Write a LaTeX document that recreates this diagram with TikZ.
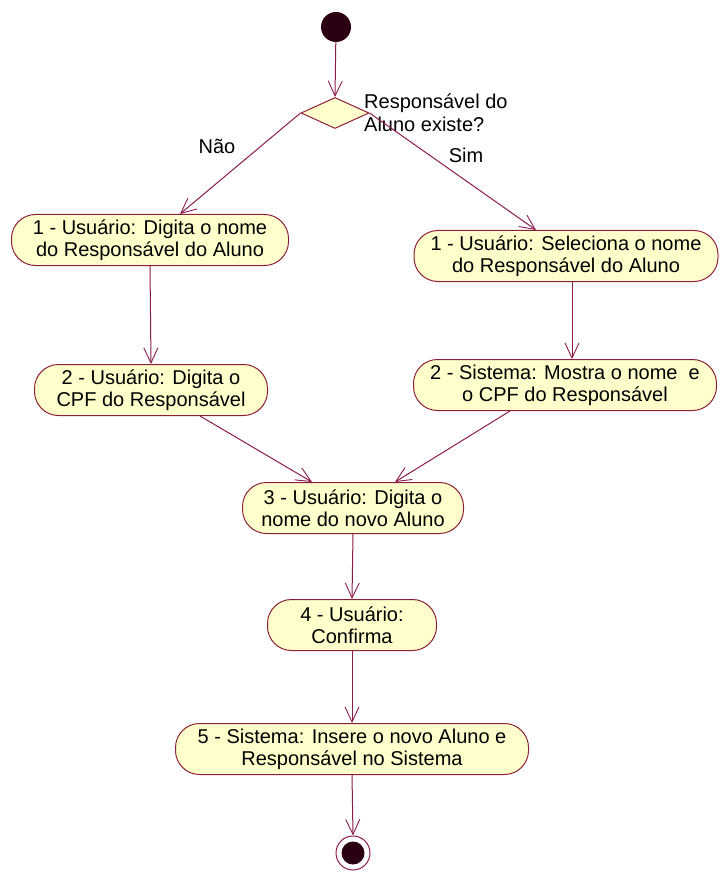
\documentclass[tikz,border=0pt]{standalone}
\usepackage{fontspec}
\setmainfont{Liberation Sans}
\usetikzlibrary{arrows.meta,shapes.geometric}
\definecolor{actfill}{HTML}{FFFFCC}
\definecolor{actborder}{HTML}{8E1F3A}
\definecolor{flowline}{HTML}{8C1C4A}
\definecolor{blob}{HTML}{2A0012}
\begin{document}
\begin{tikzpicture}[x=1pt,y=-1pt,
  activity/.style={draw=actborder, fill=actfill, rounded corners=24pt, align=center,
    font=\fontsize{20}{22}\selectfont, inner sep=0pt, line width=1pt, minimum height=51},
  flow/.style={draw=flowline, line width=1pt, -{Straight Barb[length=15pt,width=14pt,line width=0.9pt]}},
  lbl/.style={font=\fontsize{20}{23}\selectfont, inner sep=0pt}]
\useasboundingbox (0,0) rectangle (722,877);

% start and decision
\node[circle, fill=blob, minimum size=30, inner sep=0pt] (start) at (336,27) {};
\node[diamond, draw=actborder, fill=actfill, line width=1pt, inner sep=0pt,
      minimum width=68, minimum height=31, aspect=2.2] (dec) at (335,113) {};
\node[lbl, anchor=north west, align=left] (q) at (364,94) {Responsável do\\Aluno existe?};
\node[lbl] (nao) at (217,146) {Não};
\node[lbl] (sim) at (466,155) {Sim};

% activities
\node[activity, minimum width=277] (l1) at (150,240) {1 - Usuário: Digita o nome\\do Responsável do Aluno};
\node[activity, minimum width=304] (r1) at (566,256) {1 - Usuário: Seleciona o nome\\do Responsável do Aluno};
\node[activity, minimum width=233] (l2) at (151,390) {2 - Usuário: Digita o\\CPF do Responsável};
\node[activity, minimum width=303] (r2) at (565,385) {2 - Sistema: Mostra o nome~ e\\o CPF do Responsável};
\node[activity, minimum width=221] (a3) at (353,508) {3 - Usuário: Digita o\\nome do novo Aluno};
\node[activity, minimum width=169] (a4) at (352,625) {4 - Usuário:\\Confirma};
\node[activity, minimum width=353] (a5) at (352,749) {5 - Sistema: Insere o novo Aluno e\\Responsável no Sistema};

% final state
\node[circle, draw=flowline, fill=white, line width=1pt, minimum size=34, inner sep=0pt] (fin) at (353,853) {};
\node[circle, fill=blob, minimum size=23, inner sep=0pt] (finin) at (fin.center) {};

% flows
\draw[flow] (start) -- (dec.north);
\draw[flow] (dec.west) -- ([xshift=30pt]l1.north);
\draw[flow] (dec.east) -- ([xshift=-30pt]r1.north);
\draw[flow] (l1.south) -- (l2.north);
\draw[flow] ([xshift=6pt]r1.south) -- ([xshift=7pt]r2.north);
\draw[flow] ([xshift=49pt]l2.south) -- ([xshift=-41pt]a3.north);
\draw[flow] ([xshift=-55pt]r2.south) -- ([xshift=42pt]a3.north);
\draw[flow] (a3.south) -- (a4.north);
\draw[flow] (a4.south) -- (a5.north);
\draw[flow] (a5.south) -- (fin.north);
\end{tikzpicture}
\end{document}
